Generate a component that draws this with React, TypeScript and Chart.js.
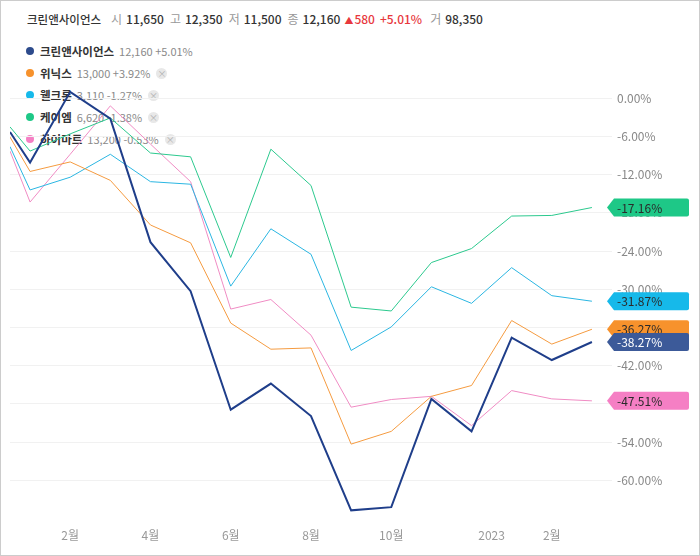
import React, { useEffect, useRef } from "react";
import { Chart, registerables } from "chart.js";

Chart.register(...registerables);

const FONT = "'Noto Sans CJK KR', 'Noto Sans', sans-serif";

const seriesNames = ["크린앤사이언스", "위닉스", "웰크론", "케이엠", "하이마트"];
const lastPrices = ["12,160", "13,000", "3,110", "6,620", "13,200"];
const dayChanges = ["+5.01%", "+3.92%", "-1.27%", "-1.38%", "-0.53%"];
const lineColors = ["#1f3e8a", "#f59b40", "#2bb6e2", "#2cc98e", "#f08cc4"];
const tagColors = ["#3c5a99", "#f7922c", "#16b9ea", "#1ec887", "#f57fc4"];
const dotColors = ["#2d4b8c", "#f7922c", "#16b9ea", "#1ec887", "#f57fc4"];
const lineWidths = [2, 1, 1, 1, 1];

// x positions in months (first point is half a month before the second)
const xPositions = [0, 0.5, 1.5, 2.5, 3.5, 4.5, 5.5, 6.5, 7.5, 8.5, 9.5, 10.5, 11.5, 12.5, 13.5, 14.5];
const xTickPositions = [1.5, 3.5, 5.5, 7.5, 9.5, 12, 13.5];
const xTickLabels = ["2월", "4월", "6월", "8월", "10월", "2023", "2월"];
const yTickValues = [0, -6, -12, -18, -24, -30, -36, -42, -48, -54, -60];

const cleanScience = [-5.3, -10.1, 1.0, -3.2, -22.6, -30.3, -48.9, -44.8, -49.9, -64.7, -64.2, -47.2, -52.3, -37.6, -41.1, -38.27];
const winix = [-6.1, -11.5, -10.0, -12.9, -19.9, -22.7, -35.3, -39.4, -39.2, -54.3, -52.3, -46.8, -45.1, -34.9, -38.6, -36.27];
const welcron = [-7.6, -14.4, -12.4, -8.8, -13.1, -13.5, -29.5, -20.5, -24.5, -39.6, -35.9, -29.6, -32.2, -26.6, -31.0, -31.87];
const kmCorp = [-4.5, -8.3, -5.6, -3.1, -8.6, -9.2, -25.0, -8.0, -13.7, -32.8, -33.4, -25.8, -23.6, -18.5, -18.4, -17.16];
const himart = [-8.3, -16.3, -8.8, -1.2, -7.2, -13.1, -33.1, -31.6, -37.2, -48.5, -47.3, -46.8, -51.4, -45.9, -47.2, -47.51];

const seriesValues = [cleanScience, winix, welcron, kmCorp, himart];

const headerItems = [
  { label: "시", value: "11,650" },
  { label: "고", value: "12,350" },
  { label: "저", value: "11,500" },
  { label: "종", value: "12,160" },
];

const tagPlugin = {
  id: "lastValueTags",
  afterDraw(chart: any) {
    const { ctx, chartArea, scales } = chart;
    const y = scales.y;
    const order = [3, 2, 1, 4, 0];
    ctx.save();
    ctx.font = `12px ${FONT}`;
    ctx.textBaseline = "middle";
    ctx.textAlign = "left";
    for (const i of order) {
      const vals = seriesValues[i];
      const v = vals[vals.length - 1];
      const py = y.getPixelForValue(v);
      const x0 = chartArea.right - 5;
      const x1 = 689;
      const h = 9;
      const r = 2;
      ctx.beginPath();
      ctx.moveTo(x0, py);
      ctx.lineTo(x0 + 7, py - h);
      ctx.lineTo(x1 - r, py - h);
      ctx.quadraticCurveTo(x1, py - h, x1, py - h + r);
      ctx.lineTo(x1, py + h - r);
      ctx.quadraticCurveTo(x1, py + h, x1 - r, py + h);
      ctx.lineTo(x0 + 7, py + h);
      ctx.closePath();
      ctx.fillStyle = tagColors[i];
      ctx.fill();
      ctx.fillStyle = i === 0 ? "#ffffff" : "#2a2a2a";
      ctx.fillText(v.toFixed(2) + "%", chartArea.right + 5, py + 0.5);
    }
    ctx.restore();
  },
};

function CloseIcon() {
  return (
    <span
      style={{
        display: "inline-block",
        width: 11,
        height: 11,
        borderRadius: "50%",
        background: "#e8e8e8",
        color: "#b0b0b0",
        fontSize: 9,
        lineHeight: "11px",
        textAlign: "center",
        marginLeft: 6,
        verticalAlign: "middle",
      }}
    >
      ×
    </span>
  );
}

export default function App() {
  const canvasRef = useRef<HTMLCanvasElement | null>(null);

  useEffect(() => {
    const canvas = canvasRef.current;
    if (!canvas) return;
    const chart = new Chart(canvas, {
      type: "line",
      data: {
        datasets: seriesNames.map((name, i) => ({
          label: name,
          data: seriesValues[i].map((v, k) => ({ x: xPositions[k], y: v })),
          borderColor: lineColors[i],
          borderWidth: lineWidths[i],
          pointRadius: 0,
          tension: 0,
          fill: false,
        })),
      },
      options: {
        animation: false,
        responsive: false,
        maintainAspectRatio: false,
        layout: { padding: { left: 10, top: 60, right: 0, bottom: 0 } },
        plugins: { legend: { display: false }, tooltip: { enabled: false } },
        scales: {
          x: {
            type: "linear",
            position: "bottom",
            min: 0,
            max: 15,
            grid: { display: false, drawTicks: false },
            border: { display: false },
            afterBuildTicks: (s: any) => {
              s.ticks = xTickPositions.map((v) => ({ value: v }));
            },
            afterFit: (s: any) => {
              s.height = 31;
            },
            ticks: {
              autoSkip: false,
              maxRotation: 0,
              padding: 3,
              color: "#999999",
              font: { size: 12, family: FONT },
              callback: (_v: any, idx: number) => xTickLabels[idx],
            },
          },
          y: {
            type: "linear",
            position: "right",
            min: -67,
            max: 6,
            grid: { color: "#f1f1f1", drawTicks: false },
            border: { display: false },
            afterBuildTicks: (s: any) => {
              s.ticks = yTickValues.map((v) => ({ value: v }));
            },
            afterFit: (s: any) => {
              s.width = 88;
            },
            ticks: {
              padding: 5,
              color: "#888888",
              font: { size: 12, family: FONT },
              callback: (v: any) => Number(v).toFixed(2) + "%",
            },
          },
        },
      },
      plugins: [tagPlugin],
    });
    return () => chart.destroy();
  }, []);

  return (
    <div
      style={{
        position: "fixed",
        left: 0,
        top: 0,
        width: 700,
        height: 556,
        background: "#ffffff",
        fontFamily: FONT,
        overflow: "hidden",
      }}
    >
      <div
        style={{
          position: "absolute",
          left: 27,
          top: 10,
          height: 18,
          lineHeight: "18px",
          fontSize: 12,
          whiteSpace: "nowrap",
          color: "#333",
        }}
      >
        <span style={{ fontSize: 11.5, fontWeight: 500, marginRight: 10 }}>크린앤사이언스</span>
        {headerItems.map((it) => (
          <span key={it.label} style={{ marginRight: 6 }}>
            <span style={{ color: "#999" }}>{it.label}</span>
            <span style={{ fontWeight: 500, marginLeft: 4 }}>{it.value}</span>
          </span>
        ))}
        <span style={{ color: "#e8383d", fontSize: 9, marginLeft: -2 }}>▲</span>
        <span style={{ color: "#e8383d", fontWeight: 500, marginLeft: 1 }}>580</span>
        <span style={{ color: "#e8383d", fontWeight: 500, marginLeft: 5 }}>+5.01%</span>
        <span style={{ color: "#999", marginLeft: 8 }}>거</span>
        <span style={{ fontWeight: 500, marginLeft: 4 }}>98,350</span>
      </div>

      <div style={{ position: "absolute", left: 26, top: 39 }}>
        {seriesNames.map((name, i) => (
          <div
            key={name}
            style={{ height: 22, lineHeight: "20px", whiteSpace: "nowrap", fontSize: 11 }}
          >
            <span
              style={{
                display: "inline-block",
                width: 8,
                height: 8,
                borderRadius: "50%",
                background: dotColors[i],
                marginRight: 6,
                verticalAlign: "middle",
              }}
            />
            <span style={{ fontWeight: 700, color: "#333", fontSize: 11.5, verticalAlign: "middle" }}>{name}</span>
            <span style={{ color: "#8a8a8a", marginLeft: 5, verticalAlign: "middle" }}>
              {lastPrices[i]} {dayChanges[i]}
            </span>
            {i > 0 ? <CloseIcon /> : null}
          </div>
        ))}
      </div>

      <canvas
        ref={canvasRef}
        width={700}
        height={556}
        style={{ position: "absolute", left: 0, top: 0, width: 700, height: 556 }}
      />

      <div
        style={{
          position: "absolute",
          left: 0,
          top: 0,
          width: 700,
          height: 556,
          boxSizing: "border-box",
          border: "1px solid #cccccc",
          pointerEvents: "none",
        }}
      />
    </div>
  );
}
